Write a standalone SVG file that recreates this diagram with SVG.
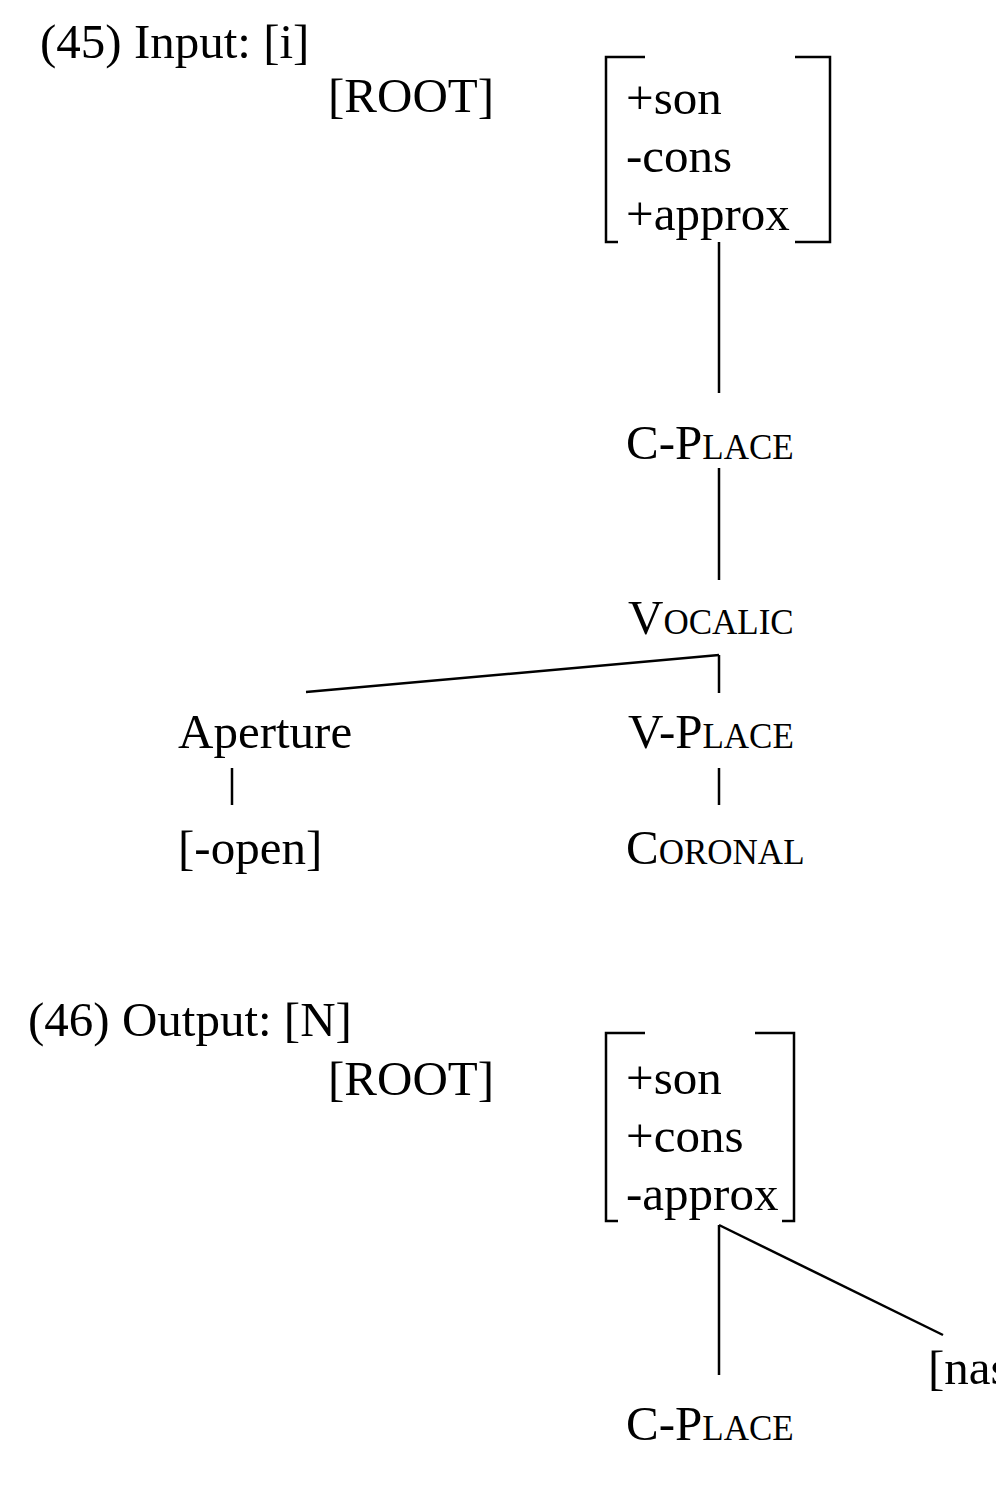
<svg xmlns="http://www.w3.org/2000/svg" width="996" height="1493" viewBox="0 0 996 1493">
<style>
text{font-family:"Liberation Serif","Times New Roman",serif;font-size:49px;fill:#000}
.sc{font-size:35px}
line,polyline{stroke:#000;stroke-width:2.5;fill:none}
</style>
<rect width="996" height="1493" fill="#fff"/>
<g id="labels">
<text x="40" y="58">(45) Input: [i]</text>
<text x="28" y="1036">(46) Output: [N]</text>
</g>
<g id="root1"><text x="328" y="112">[ROOT]</text></g>
<g id="matrix1">
<polyline points="645,57 606,57 606,242 618,242"/>
<polyline points="795,57 830,57 830,242 795,242"/>
<text x="626" y="114">+son</text>
<text x="626" y="172">-cons</text>
<text x="626" y="230">+approx</text>
</g>
<g id="cplace1"><text x="626" y="459">C-P<tspan class="sc">LACE</tspan></text></g>
<g id="vocalic"><text x="628" y="634">V<tspan class="sc">OCALIC</tspan></text></g>
<g id="aperture"><text x="178" y="748">Aperture</text></g>
<g id="vplace"><text x="628" y="748">V-P<tspan class="sc">LACE</tspan></text></g>
<g id="open"><text x="178" y="864">[-open]</text></g>
<g id="coronal"><text x="626" y="864">C<tspan class="sc">ORONAL</tspan></text></g>
<g id="root2"><text x="328" y="1095">[ROOT]</text></g>
<g id="matrix2">
<polyline points="645,1033 606,1033 606,1221 618,1221"/>
<polyline points="755,1033 794,1033 794,1221 782,1221"/>
<text x="626" y="1094">+son</text>
<text x="626" y="1152">+cons</text>
<text x="626" y="1210">-approx</text>
</g>
<g id="nasal"><text x="928" y="1384">[nasal]</text></g>
<g id="cplace2"><text x="626" y="1440">C-P<tspan class="sc">LACE</tspan></text></g>
<g id="connectors">
<line x1="719" y1="242" x2="719" y2="393"/>
<line x1="719" y1="468" x2="719" y2="580"/>
<line x1="719" y1="655" x2="719" y2="693"/>
<line x1="719" y1="655" x2="306" y2="692"/>
<line x1="232" y1="768" x2="232" y2="805"/>
<line x1="719" y1="768" x2="719" y2="805"/>
<line x1="719" y1="1225" x2="719" y2="1375"/>
<line x1="719" y1="1225" x2="943" y2="1335"/>
</g>
</svg>
